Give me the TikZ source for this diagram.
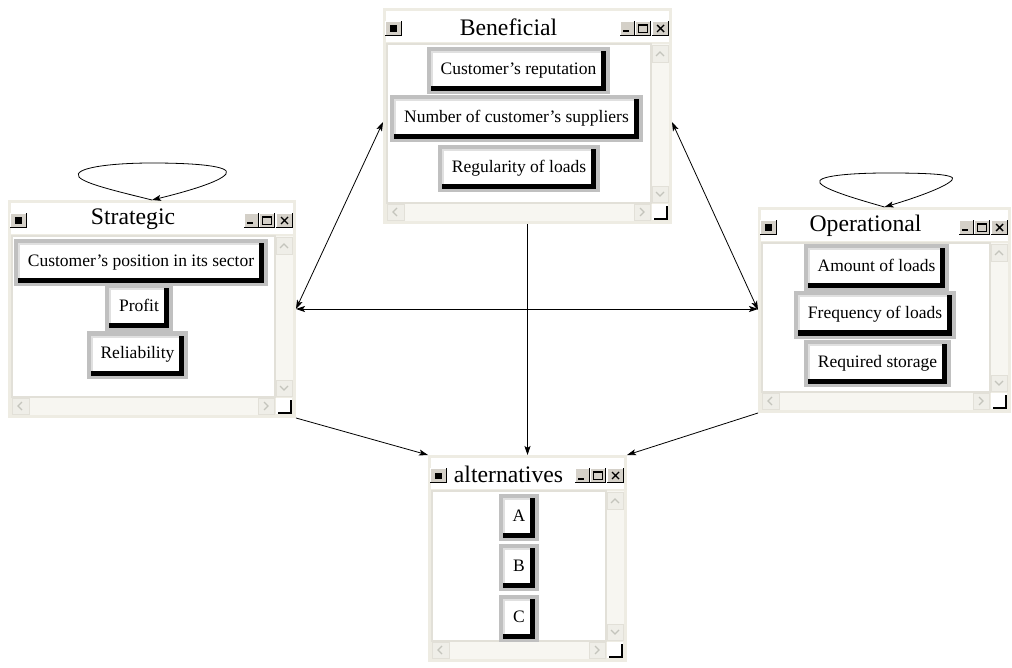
\documentclass[tikz,border=0pt]{standalone}
\usepackage{fontspec}
\setmainfont{Liberation Serif}
\usetikzlibrary{arrows.meta,calc}
\definecolor{winbg}{HTML}{EEECE3}
\definecolor{track}{HTML}{F7F6F1}
\definecolor{sbtn}{HTML}{EFEEE8}
\definecolor{sbdraw}{HTML}{E2E0D8}
\definecolor{chevc}{HTML}{C4C4BC}
\definecolor{btngray}{HTML}{C0C0C0}
\definecolor{btnlight}{HTML}{E0E0E0}
\definecolor{ctrlc}{HTML}{D4D0C8}

\tikzset{
  winframe/.style={fill=winbg, draw=none, inner sep=0pt, outer sep=0pt},
  wtitle/.style={font=\fontsize{23.7}{26}\selectfont, inner sep=0pt},
  chevron/.style={draw=chevc, line width=1.2pt},
  sbox/.style={fill=sbtn, draw=sbdraw, line width=0.8pt},
  gbtn/.style={fill=btngray, inner ysep=0pt, inner xsep=14pt, minimum height=47pt,
    text height=12pt, text depth=4pt, font=\fontsize{17.5}{20}\selectfont, outer sep=0pt,
    path picture={
      \fill[black] ([xshift=4pt,yshift=3pt]path picture bounding box.south west)
        rectangle ([xshift=-4pt,yshift=-4pt]path picture bounding box.north east);
      \fill[btnlight] ([xshift=4pt,yshift=8pt]path picture bounding box.south west)
        rectangle ([xshift=-9pt,yshift=-4pt]path picture bounding box.north east);
      \fill[white] ([xshift=6pt,yshift=8pt]path picture bounding box.south west)
        rectangle ([xshift=-9pt,yshift=-6pt]path picture bounding box.north east);
    }},
  link/.style={draw=black, line width=0.8pt, -{Stealth[length=9pt,width=6pt,inset=2pt]}},
  dlink/.style={draw=black, line width=0.8pt, {Stealth[length=9pt,width=6pt,inset=2pt]}-{Stealth[length=9pt,width=6pt,inset=2pt]}},
}

% control button: x1 y1 x2 y2
\newcommand\ctrlbox[4]{%
  \fill[ctrlc] ({#1},{#2}) rectangle ({#3},{#4});
  \draw[white, line width=1pt] ({#1+0.5},{#4}) -- ({#1+0.5},{#2+0.5}) -- ({#3},{#2+0.5});
  \draw[black, line width=1.3pt] ({#1},{#4-0.6}) -- ({#3-0.6},{#4-0.6}) -- ({#3-0.6},{#2});
}

% window: name, x1, y1, x2, y2, title
\newcommand\gwin[6]{%
  \node[winframe, minimum width={#4-#2}, minimum height={#5-#3}] (#1) at ({(#2+#4)/2},{(#3+#5)/2}) {};
  \fill[white] ({#2+3},{#3+3}) rectangle ({#4-3},{#3+34});
  \node[wtitle] (#1-title) at ({(#2+#4)/2-19},{#3+19}) {#6};
  % system button
  \ctrlbox{#2+2}{#3+13}{#2+19}{#3+28}
  \fill[black] ({#2+7},{#3+17.5}) rectangle ({#2+14},{#3+24});
  % minimize / maximize / close
  \ctrlbox{#4-52}{#3+13}{#4-37}{#3+28}
  \draw[black, line width=2pt] ({#4-49},{#3+23.5}) -- ({#4-43},{#3+23.5});
  \ctrlbox{#4-37}{#3+13}{#4-21}{#3+28}
  \draw[black, line width=1pt] ({#4-33.5},{#3+16.5}) rectangle ({#4-25},{#3+24.5});
  \draw[black, line width=2pt] ({#4-33.5},{#3+17}) -- ({#4-25},{#3+17});
  \ctrlbox{#4-20}{#3+13}{#4-3}{#3+28}
  \draw[black, line width=1.4pt] ({#4-15},{#3+17}) -- ({#4-8},{#3+24}) ({#4-15},{#3+24}) -- ({#4-8},{#3+17});
  % content area
  \filldraw[fill=white, draw=sbdraw, line width=1.5pt] ({#2+4},{#3+36}) rectangle ({#4-21},{#5-21});
  % scroll tracks
  \fill[track] ({#4-20},{#3+36}) rectangle ({#4-3},{#5-21});
  \fill[track] ({#2+4},{#5-20}) rectangle ({#4-21},{#5-3});
  % scroll buttons
  \filldraw[sbox] ({#4-20},{#3+37}) rectangle ({#4-4},{#3+54});
  \draw[chevron] ({#4-16},{#3+48}) -- ({#4-12},{#3+44}) -- ({#4-8},{#3+48});
  \filldraw[sbox] ({#4-20},{#5-38}) rectangle ({#4-4},{#5-22});
  \draw[chevron] ({#4-16},{#5-32}) -- ({#4-12},{#5-28}) -- ({#4-8},{#5-32});
  \filldraw[sbox] ({#2+4},{#5-20}) rectangle ({#2+21},{#5-4});
  \draw[chevron] ({#2+14},{#5-16}) -- ({#2+10},{#5-12}) -- ({#2+14},{#5-8});
  \filldraw[sbox] ({#4-38},{#5-20}) rectangle ({#4-22},{#5-4});
  \draw[chevron] ({#4-32},{#5-16}) -- ({#4-28},{#5-12}) -- ({#4-32},{#5-8});
  % resize corner
  \fill[white] ({#4-20},{#5-20}) rectangle ({#4-4},{#5-4});
  \draw[black, line width=1.3pt] ({#4-18},{#5-5}) -- ({#4-5},{#5-5}) -- ({#4-5},{#5-18});
}

\begin{document}
\begin{tikzpicture}[x=1pt,y=-1pt]
\useasboundingbox[fill=white] (0,0) rectangle (1012,668);

\gwin{benef}{383}{8}{672}{224}{Beneficial}
\gwin{strat}{8}{200}{296}{418}{Strategic}
\gwin{op}{758}{207}{1011}{413}{Operational}
\gwin{alt}{428}{455}{627}{662}{alternatives}

% Beneficial items
\node[gbtn] (b1) at (518.5,71) {Customer's reputation};
\node[gbtn] (b2) at (516.5,119) {Number of customer’s suppliers};
\node[gbtn] (b3) at (519,169) {Regularity of loads};

% Strategic items
\node[gbtn] (s1) at (141,262.5) {Customer’s position in its sector};
\node[gbtn] (s2) at (139,307.5) {Profit};
\node[gbtn] (s3) at (137.5,355) {Reliability};

% Operational items
\node[gbtn] (o1) at (876.5,267.5) {Amount of loads};
\node[gbtn] (o2) at (875,315) {Frequency of loads};
\node[gbtn] (o3) at (877.5,363.5) {Required storage};

% alternatives
\node[gbtn] (a1) at (519,517.5) {A};
\node[gbtn] (a2) at (519,567.5) {B};
\node[gbtn] (a3) at (519,618) {C};

% connectors
\draw[dlink] ([yshift=-6pt]benef.west) -- (strat.east);
\draw[dlink] ([yshift=-6pt]benef.east) -- (op.west);
\draw[dlink] (strat.east) -- (strat.east -| op.west);
\draw[link] (benef.south) -- (alt.north);
\draw[link] (strat.south east) -- (alt.north west);
\draw[link] (op.south west) -- (alt.north east);

% self loops
\draw[link] (strat.north) .. controls (120,192) and (85,184) .. (79,177)
  .. controls (72,168) and (110,163) .. (152,163)
  .. controls (195,163) and (232,166) .. (226,174)
  .. controls (220,182) and (185,192) .. (strat.north);
\draw[link] (op.north) .. controls (860,200) and (825,190) .. (820,183)
  .. controls (815,176) and (850,173) .. (887,173)
  .. controls (925,173) and (958,174) .. (952,180)
  .. controls (946,187) and (915,198) .. (op.north);
\end{tikzpicture}
\end{document}
